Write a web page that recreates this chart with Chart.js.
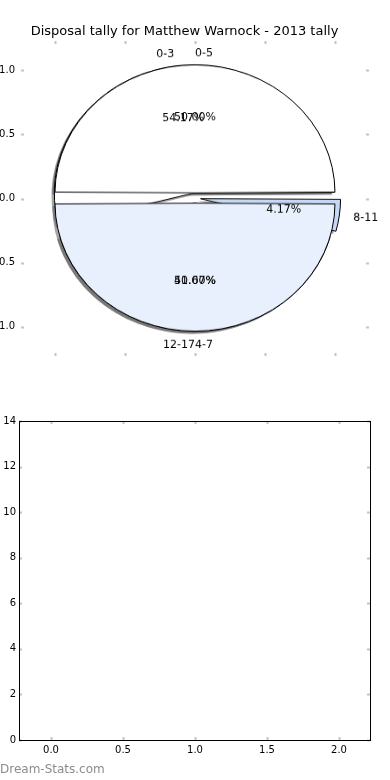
<!DOCTYPE html>
<html>
<head>
<meta charset="utf-8">
<script src="https://cdn.jsdelivr.net/npm/chart.js@4.4.0/dist/chart.umd.min.js"></script>
<style>
  body { margin: 0; background: #fff; }
  #wrap { position: relative; width: 390px; height: 780px; overflow: hidden; font-family: "DejaVu Sans"; }
  #wrap canvas { position: absolute; left: 0; }
  #axes-top { top: 0; }
  .pie { top: 3px; transform: scaleY(0.9143); transform-origin: 195px 195px; }
  #axes-bottom { top: 380px; }
  #mark { position: absolute; left: 0; top: 762px; color: #8c8c8c; font-size: 12px; white-space: nowrap; }
</style>
</head>
<body>
<div id="wrap">
  <canvas id="axes-top" width="390" height="356"></canvas>
  <canvas id="pie-1" class="pie" width="390" height="390"></canvas>
  <canvas id="pie-2" class="pie" width="390" height="390"></canvas>
  <canvas id="axes-bottom" width="390" height="400"></canvas>
  <div id="mark">Dream-Stats.com</div>
</div>
<script>
// two pies drawn on top of each other (as in the original)
const pieCategories = ['0-3', '4-7', '8-11'];
const pieCounts = [13, 10, 1];
const ringCategories = ['0-5', '12-17'];
const ringCounts = [12, 12];

const pieXTicks = [-1, -0.5, 0, 0.5, 1];
const pieYTicks = [-1, -0.5, 0, 0.5, 1];
const barXTicks = [0, 0.5, 1, 1.5, 2];
const barYTicks = [0, 2, 4, 6, 8, 10, 12, 14];
const barValues = [];

const FONT = 'DejaVu Sans';
const R = 140;             // pie radius, px (x direction)
const SQUASH = 128 / 140;  // the axes are not square, so the pie is an ellipse
const EXPLODE = 0.04;

// tick marks pointing into the plot + optional frame
const innerTicks = {
    id: 'innerTicks',
    afterDraw(chart, args, opts) {
        const { ctx, chartArea: a, scales: { x, y } } = chart;
        const L = opts.length;
        ctx.save();
        ctx.strokeStyle = opts.color;
        ctx.lineWidth = opts.width;
        ctx.beginPath();
        x.ticks.forEach(t => {
            const px = Math.round(x.getPixelForValue(t.value)) + 0.5;
            ctx.moveTo(px, a.top); ctx.lineTo(px, a.top + L);
            ctx.moveTo(px, a.bottom); ctx.lineTo(px, a.bottom - L);
        });
        y.ticks.forEach(t => {
            const py = Math.round(y.getPixelForValue(t.value)) + 0.5;
            ctx.moveTo(a.left, py); ctx.lineTo(a.left + L, py);
            ctx.moveTo(a.right, py); ctx.lineTo(a.right - L, py);
        });
        ctx.stroke();
        if (opts.frame) {
            ctx.strokeStyle = '#000';
            ctx.lineWidth = 1;
            ctx.strokeRect(Math.round(a.left) + 0.5, Math.round(a.top) + 0.5,
                Math.round(a.right - a.left), Math.round(a.bottom - a.top));
        }
        ctx.restore();
    }
};

function linearAxis(min, max, ticks, fmt, showLabels, size, pad) {
    return {
        type: 'linear', min, max, offset: false,
        afterBuildTicks: s => { s.ticks = ticks.map(v => ({ value: v })); },
        afterFit: s => {
            if (s.isHorizontal()) s.height = size; else s.width = size;
            s.paddingTop = s.paddingBottom = s.paddingLeft = s.paddingRight = 0;
        },
        grid: { display: false, drawTicks: false, offset: false },
        border: { display: false },
        ticks: {
            display: showLabels, padding: pad, color: '#000',
            font: { family: FONT, size: 10 },
            callback: v => fmt(v)
        }
    };
}

// top axes (the pie sits on them)
new Chart(document.getElementById('axes-top'), {
    type: 'scatter',
    data: { datasets: [] },
    options: {
        responsive: false,
        animation: false,
        layout: { padding: { right: 21 } },
        scales: {
            x: linearAxis(-1.243, 1.243, pieXTicks, v => v.toFixed(1), false, 0, 0),
            y: linearAxis(-1.23, 1.23, pieYTicks, v => v.toFixed(1), true, 21, 6)
        },
        plugins: {
            legend: { display: false },
            tooltip: { enabled: false },
            title: {
                display: true,
                text: 'Disposal tally for Matthew Warnock - 2013 tally',
                color: '#000',
                font: { family: FONT, size: 13, weight: 'normal' },
                padding: { top: 24, bottom: 1.4 }
            },
            innerTicks: { color: '#c4c4c4', width: 2, length: 3, frame: false }
        }
    },
    plugins: [innerTicks]
});

// matplotlib-style fractions (float32) so the label sides come out the same
function fractions(counts) {
    const total = counts.reduce((a, b) => a + b, 0);
    return counts.map(v => Math.fround(v / total));
}

// chart.js moves an offset arc by offset/4 but also grows it; keep the radius
const keepRadius = {
    id: 'keepRadius',
    afterDatasetUpdate(chart) {
        chart.getDatasetMeta(0).data.forEach(arc => {
            const fix = 1 - Math.sin(Math.min(Math.PI, arc.circumference));
            arc.outerRadius = R - (arc.options.offset / 4) * fix;
        });
    }
};

function makePie(id, labels, counts, colors, extra) {
    // chart.js goes clockwise, matplotlib counter-clockwise: feed reversed
    const order = labels.map((_, i) => i).reverse();
    return new Chart(document.getElementById(id), {
        type: 'pie',
        data: {
            labels: order.map(i => labels[i]),
            datasets: [{
                data: order.map(i => counts[i]),
                backgroundColor: order.map(i => colors[i]),
                borderColor: '#000',
                borderWidth: 1,
                offset: 4 * EXPLODE * R
            }]
        },
        options: {
            responsive: false,
            animation: false,
            rotation: 90,
            radius: R,
            plugins: { legend: { display: false }, tooltip: { enabled: false } }
        },
        plugins: [keepRadius].concat(extra || [])
    });
}

const pieColors = ['#ffffff', '#e9f0fd', '#c6d8f6'];
const ringColors = ['#ffffff', '#e9f0fd'];

// all texts go on the upper canvas so they stay above both pies
const pieTexts = {
    id: 'pieTexts',
    afterDraw(chart) {
        const ctx = chart.ctx;
        const arc = chart.getDatasetMeta(0).data[0];
        const cx = arc.x, cy = arc.y + 1.5;
        const put = (txt, x, y, align) => {
            ctx.save();
            ctx.translate(x, y);
            ctx.scale(1, 1 / SQUASH);
            ctx.textAlign = align;
            ctx.textBaseline = 'middle';
            ctx.fillStyle = '#000';
            ctx.font = '11px "' + FONT + '"';
            ctx.fillText(txt, 0, 0);
            ctx.restore();
        };
        [[pieCategories, pieCounts], [ringCategories, ringCounts]].forEach(([labels, counts]) => {
            const fr = fractions(counts);
            let theta1 = 0;
            fr.forEach((f, i) => {
                const theta2 = theta1 + f;
                const tm = 2 * Math.PI * 0.5 * (theta1 + theta2);
                const ex = EXPLODE * Math.cos(tm), ey = EXPLODE * Math.sin(tm);
                const xt = ex + 1.1 * Math.cos(tm), yt = ey + 1.1 * Math.sin(tm);
                put(labels[i], cx + R * xt, cy - R * yt, xt > 0 ? 'left' : 'right');
                const xp = ex + 0.6 * Math.cos(tm), yp = ey + 0.6 * Math.sin(tm);
                put((100 * f).toFixed(2) + '%', cx + R * xp, cy - R * yp, 'center');
                theta1 = theta2;
            });
        });
    }
};

// upper pie first, so the lower one can put every shadow under both
const pie2 = makePie('pie-2', ringCategories, ringCounts, ringColors, [pieTexts]);

const shadows = {
    id: 'shadows',
    beforeDatasetsDraw(chart) {
        const ctx = chart.ctx;
        ctx.save();
        ctx.translate(-0.02 * R, 0.02 * R);
        [chart, pie2].forEach(c => {
            c.getDatasetMeta(0).data.forEach(arc => {
                const o = arc.options;
                arc.options = Object.assign({}, o, { backgroundColor: 'rgba(77,77,77,0.5)', borderWidth: 0 });
                arc.draw(ctx);
                arc.options = o;
            });
        });
        ctx.restore();
    }
};

makePie('pie-1', pieCategories, pieCounts, pieColors, [shadows]);

// bottom axes (empty)
new Chart(document.getElementById('axes-bottom'), {
    type: 'bar',
    data: { datasets: [{ data: barValues }] },
    options: {
        responsive: false,
        animation: false,
        layout: { padding: { top: 41, right: 20, bottom: 20 } },
        scales: {
            x: linearAxis(-0.222, 2.215, barXTicks, v => v.toFixed(1), true, 20, 4),
            y: linearAxis(0, 14, barYTicks, v => String(v), true, 19, 3)
        },
        plugins: {
            legend: { display: false },
            tooltip: { enabled: false },
            innerTicks: { color: '#c4c4c4', width: 2, length: 3, frame: true }
        }
    },
    plugins: [innerTicks]
});
</script>
</body>
</html>
